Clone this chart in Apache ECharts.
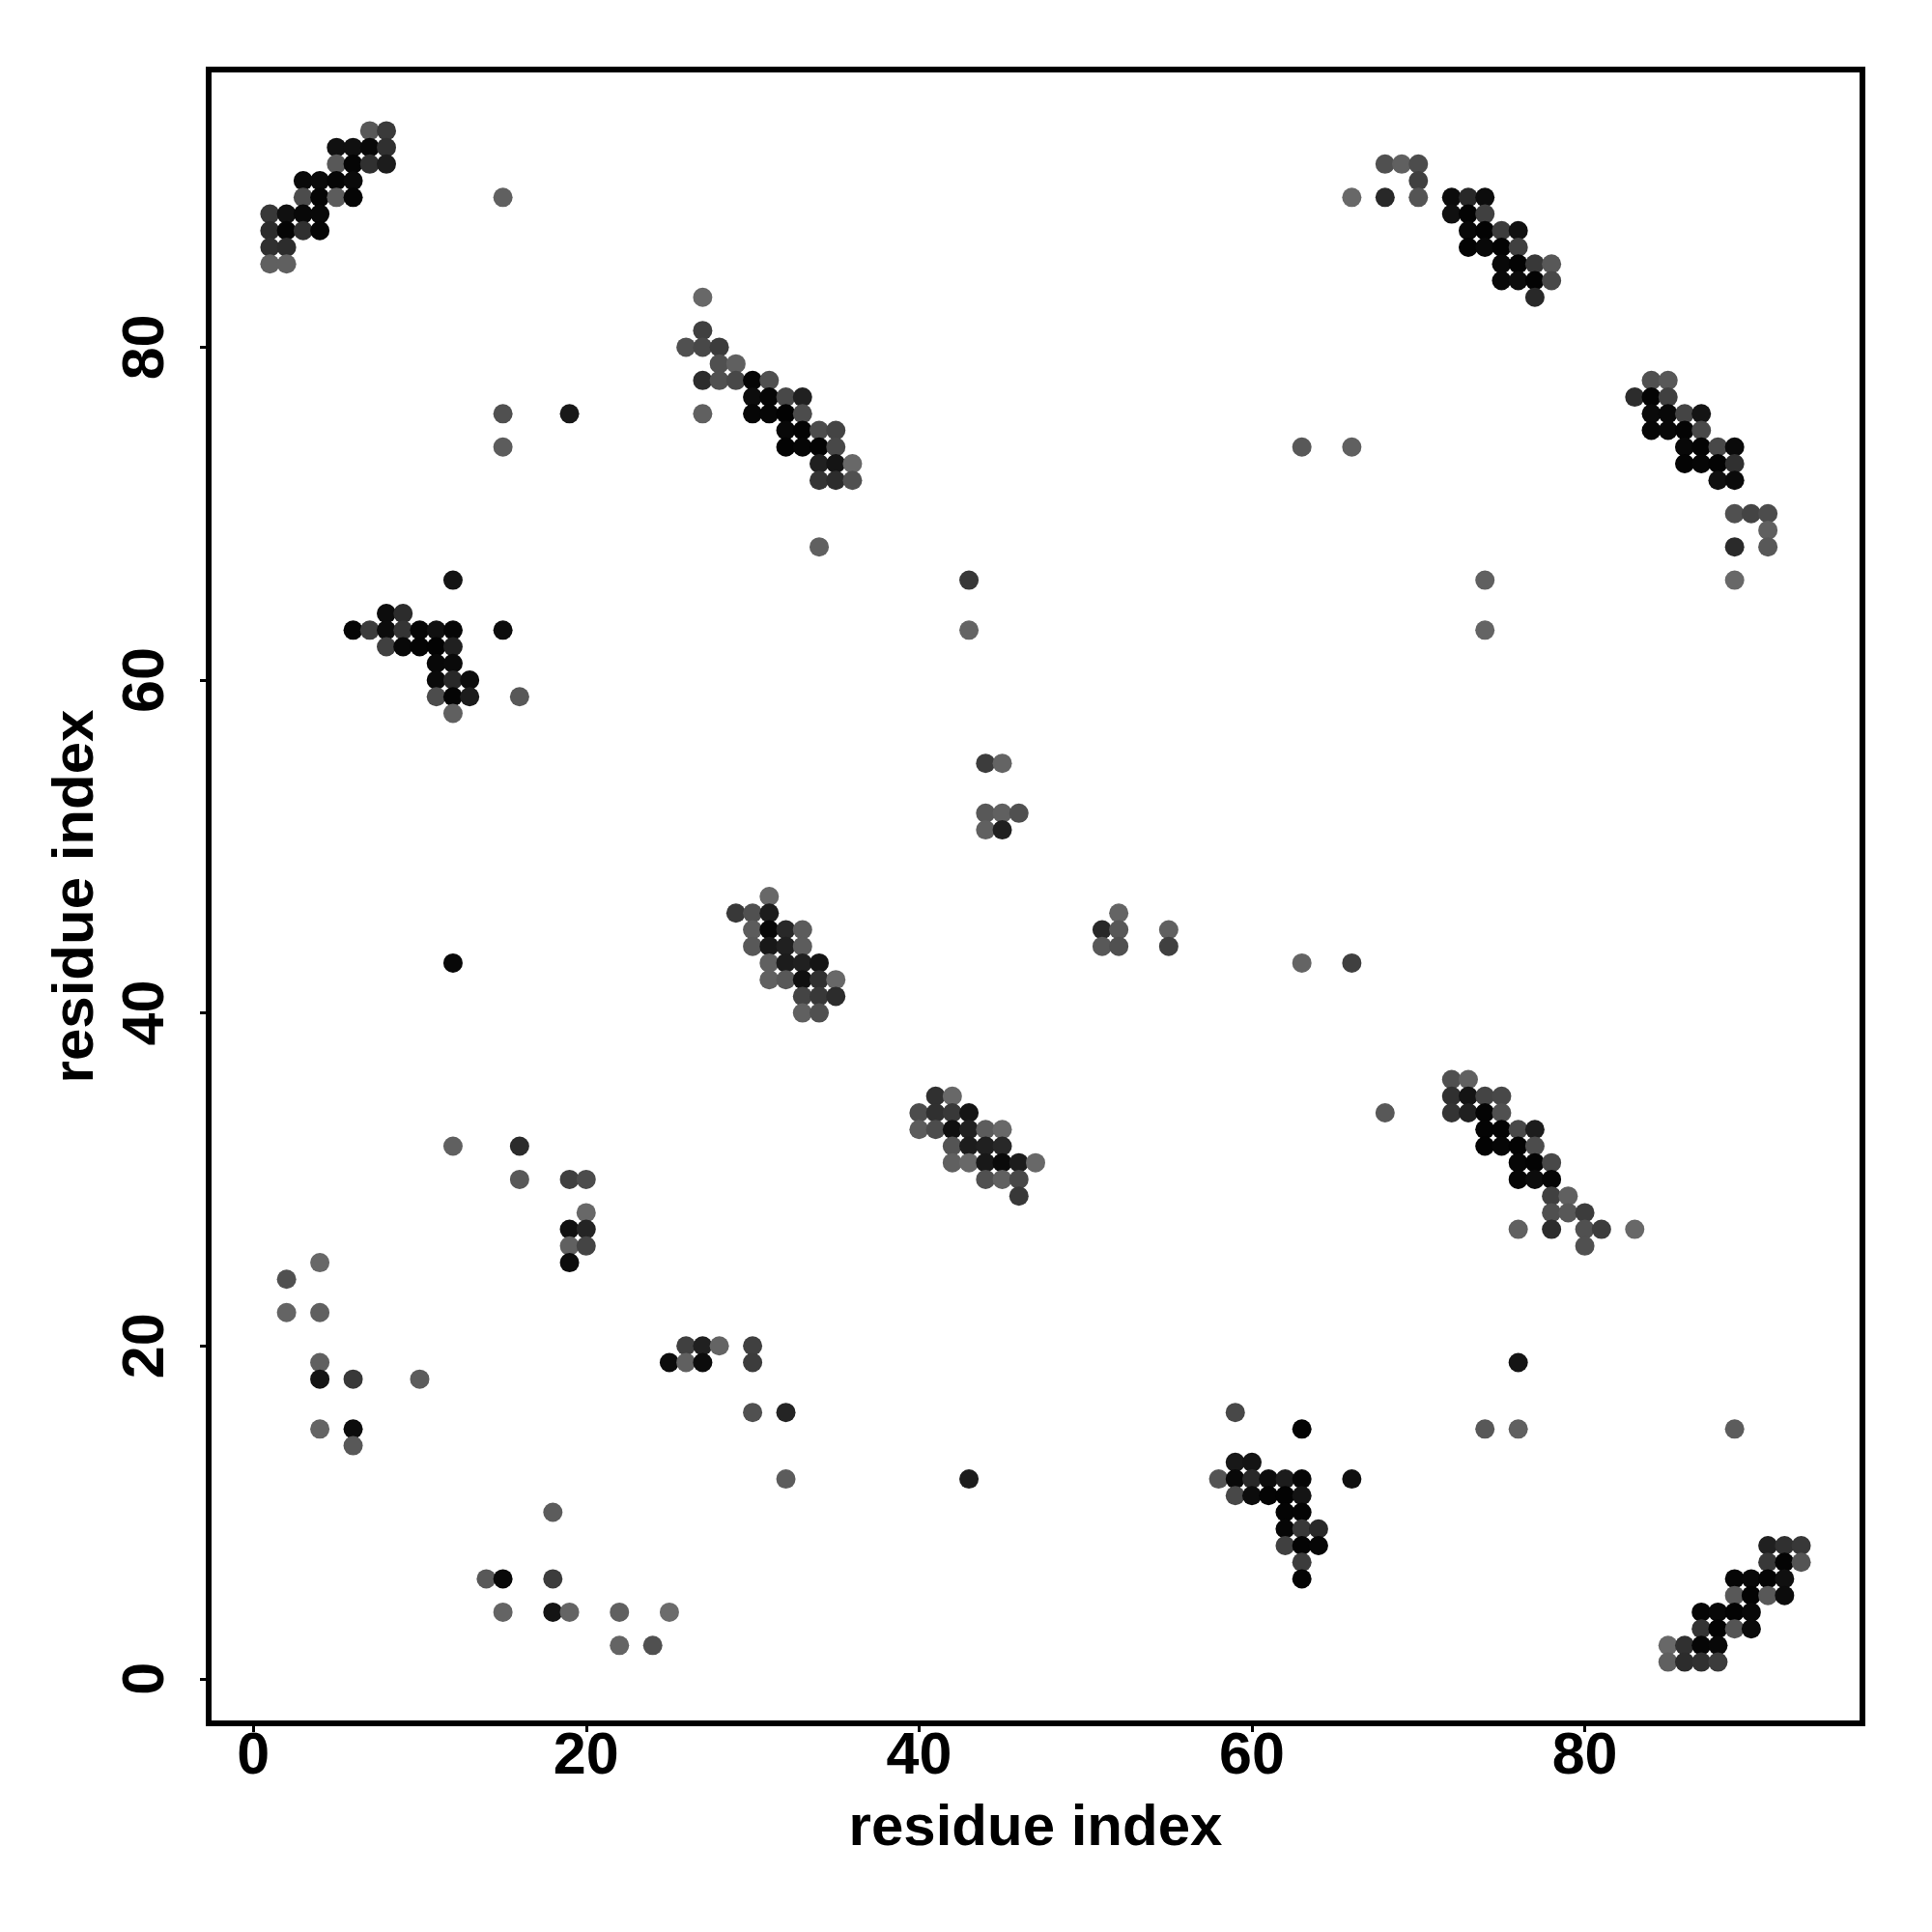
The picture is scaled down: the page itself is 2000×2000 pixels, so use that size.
<!DOCTYPE html>
<html><head><meta charset="utf-8">
<style>html,body{margin:0;padding:0;background:#fff}#c{width:2000px;height:2000px}</style>
<script src="https://cdn.jsdelivr.net/npm/echarts@6/dist/echarts.min.js"></script>
</head><body><div id="c"></div>
<script>
// Each contact: [x residue, y residue, grey level of the dot]
const tickValues = [0, 20, 40, 60, 80];
const axisTitle = 'residue index';
const axisMin = -2.68, axisMax = 96.68;

const helixTopLeft = [[7,93,0x58],[8,93,0x3a],[5,92,0x10],[6,92,0x10],[7,92,0x08],[8,92,0x30],[5,91,0x58],[6,91,0x05],[7,91,0x30],[8,91,0x1c],[3,90,0x0a],[4,90,0x0a],[5,90,0x05],[6,90,0x0a],[3,89,0x4c],[4,89,0x05],[5,89,0x5c],[6,89,0x05],[1,88,0x38],[2,88,0x10],[3,88,0x08],[4,88,0x08],[1,87,0x2c],[2,87,0x05],[3,87,0x30],[4,87,0x05],[1,86,0x30],[2,86,0x2c],[1,85,0x60],[2,85,0x60],[15,89,0x60]];
const strandTopRight = [[68,91,0x50],[69,91,0x60],[70,91,0x4c],[70,90,0x40],[66,89,0x68],[68,89,0x28],[70,89,0x54],[72,89,0x0c],[73,89,0x28],[74,89,0x0c],[72,88,0x10],[73,88,0x03],[74,88,0x40],[73,87,0x08],[74,87,0x03],[75,87,0x3c],[76,87,0x10],[73,86,0x03],[74,86,0x08],[75,86,0x03],[76,86,0x40],[75,85,0x08],[76,85,0x03],[77,85,0x38],[78,85,0x58],[75,84,0x08],[76,84,0x0c],[77,84,0x03],[78,84,0x48],[77,83,0x28]];
const strandUpperMid = [[27,83,0x68],[27,81,0x40],[26,80,0x50],[27,80,0x48],[28,80,0x3c],[28,79,0x50],[29,79,0x60],[27,78,0x2c],[28,78,0x50],[29,78,0x48],[30,78,0x05],[31,78,0x50],[30,77,0x0c],[31,77,0x06],[32,77,0x48],[33,77,0x20],[27,76,0x60],[30,76,0x06],[31,76,0x06],[32,76,0x02],[33,76,0x4c],[32,75,0x08],[33,75,0x04],[34,75,0x4c],[35,75,0x44],[32,74,0x03],[33,74,0x06],[34,74,0x04],[35,74,0x48],[34,73,0x20],[35,73,0x14],[36,73,0x68],[34,72,0x34],[35,72,0x2c],[36,72,0x50]];
const strandUpperRight = [[84,78,0x50],[85,78,0x58],[83,77,0x2c],[84,77,0x04],[85,77,0x40],[84,76,0x0a],[85,76,0x08],[86,76,0x44],[87,76,0x14],[84,75,0x06],[85,75,0x08],[86,75,0x04],[87,75,0x48],[86,74,0x08],[87,74,0x04],[88,74,0x48],[89,74,0x0a],[86,73,0x04],[87,73,0x06],[88,73,0x03],[89,73,0x30],[88,72,0x10],[89,72,0x0a],[89,70,0x50],[90,70,0x44],[91,70,0x4c],[91,69,0x60],[89,68,0x2a],[91,68,0x58],[89,66,0x68]];
const cornerUpperLeft = [[12,66,0x14],[8,64,0x0c],[9,64,0x2c],[6,63,0x06],[7,63,0x3c],[8,63,0x0c],[9,63,0x34],[10,63,0x06],[11,63,0x10],[12,63,0x06],[15,63,0x0c],[8,62,0x40],[9,62,0x08],[10,62,0x04],[11,62,0x03],[12,62,0x20],[11,61,0x08],[12,61,0x0a],[11,60,0x0a],[12,60,0x28],[13,60,0x0c],[11,59,0x4c],[12,59,0x04],[13,59,0x1c],[16,59,0x58],[12,58,0x60]];
const strandCentreHigh = [[31,47,0x68],[29,46,0x38],[30,46,0x50],[31,46,0x1c],[30,45,0x5c],[31,45,0x08],[32,45,0x28],[33,45,0x5c],[30,44,0x58],[31,44,0x18],[32,44,0x20],[33,44,0x5c],[31,43,0x60],[32,43,0x1c],[33,43,0x20],[34,43,0x14],[31,42,0x60],[32,42,0x58],[33,42,0x10],[34,42,0x30],[35,42,0x68],[33,41,0x44],[34,41,0x38],[35,41,0x2c],[33,40,0x60],[34,40,0x50]];
const strandCentreLow = [[41,35,0x30],[42,35,0x68],[40,34,0x4c],[41,34,0x30],[42,34,0x38],[43,34,0x14],[40,33,0x5c],[41,33,0x4c],[42,33,0x10],[43,33,0x20],[44,33,0x5c],[45,33,0x68],[42,32,0x54],[43,32,0x1c],[44,32,0x20],[45,32,0x28],[42,31,0x60],[43,31,0x68],[44,31,0x18],[45,31,0x0a],[46,31,0x1c],[47,31,0x68],[44,30,0x50],[45,30,0x60],[46,30,0x48],[46,29,0x38]];
const strandLowerRight = [[72,36,0x50],[73,36,0x60],[72,35,0x30],[73,35,0x14],[74,35,0x44],[75,35,0x48],[72,34,0x34],[73,34,0x20],[74,34,0x04],[75,34,0x50],[74,33,0x04],[75,33,0x04],[76,33,0x48],[77,33,0x1c],[74,32,0x03],[75,32,0x06],[76,32,0x03],[77,32,0x4c],[76,31,0x06],[77,31,0x03],[78,31,0x48],[76,30,0x06],[77,30,0x0c],[78,30,0x06],[78,29,0x40],[79,29,0x60],[78,28,0x50],[79,28,0x58],[80,28,0x3c],[76,27,0x60],[78,27,0x2c],[80,27,0x50],[81,27,0x3c],[83,27,0x68],[80,26,0x50]];
const cornerLowerMid = [[63,15,0x04],[59,13,0x18],[60,13,0x14],[58,12,0x54],[59,12,0x08],[60,12,0x28],[61,12,0x0c],[62,12,0x1c],[63,12,0x06],[66,12,0x10],[59,11,0x48],[60,11,0x0c],[61,11,0x04],[62,11,0x03],[63,11,0x14],[62,10,0x04],[63,10,0x04],[62,9,0x06],[63,9,0x38],[64,9,0x28],[62,8,0x40],[63,8,0x04],[64,8,0x06],[63,7,0x3c],[63,6,0x03]];
const helixBottomRight = [[91,8,0x20],[92,8,0x30],[93,8,0x38],[91,7,0x38],[92,7,0x04],[93,7,0x54],[89,6,0x06],[90,6,0x08],[91,6,0x04],[92,6,0x10],[89,5,0x58],[90,5,0x03],[91,5,0x58],[92,5,0x0c],[87,4,0x06],[88,4,0x08],[89,4,0x03],[90,4,0x08],[87,3,0x34],[88,3,0x03],[89,3,0x54],[90,3,0x0a],[85,2,0x68],[86,2,0x30],[87,2,0x06],[88,2,0x08],[85,1,0x60],[86,1,0x2c],[87,1,0x30],[88,1,0x3c]];
const scatteredLowerLeft = [[12,32,0x60],[16,32,0x2c],[16,30,0x58],[19,30,0x40],[20,30,0x4c],[20,28,0x68],[19,27,0x10],[20,27,0x24],[19,26,0x60],[20,26,0x44],[19,25,0x0c],[4,25,0x68],[2,24,0x50],[2,22,0x64],[4,22,0x60],[4,19,0x60],[4,18,0x14],[6,18,0x38],[10,18,0x5c],[4,15,0x64],[6,15,0x0c],[6,14,0x58],[25,19,0x0c],[26,20,0x40],[27,20,0x20],[28,20,0x64],[26,19,0x60],[27,19,0x0c],[30,20,0x40],[30,19,0x3c],[30,16,0x50],[32,16,0x24],[32,12,0x5c],[18,10,0x5c],[14,6,0x58],[15,6,0x08],[18,6,0x3c],[15,4,0x64],[18,4,0x14],[19,4,0x64],[22,4,0x60],[25,4,0x6c],[22,2,0x64],[24,2,0x50]];
const scatteredOther = [[15,76,0x50],[15,74,0x5c],[19,76,0x18],[34,68,0x60],[43,66,0x38],[43,63,0x64],[74,66,0x60],[74,63,0x64],[63,74,0x58],[66,74,0x60],[44,55,0x3c],[45,55,0x64],[44,52,0x58],[45,52,0x60],[46,52,0x50],[44,51,0x60],[45,51,0x20],[51,45,0x28],[52,46,0x64],[52,45,0x58],[51,44,0x58],[52,44,0x50],[55,45,0x60],[55,44,0x40],[12,43,0x08],[63,43,0x64],[66,43,0x40],[68,34,0x58],[43,12,0x1c],[59,16,0x48],[76,19,0x14],[74,15,0x58],[76,15,0x60],[89,15,0x5c]];

const contacts = [].concat(helixTopLeft, strandTopRight, strandUpperMid, strandUpperRight, cornerUpperLeft, strandCentreHigh, strandCentreLow, strandLowerRight, cornerLowerMid, helixBottomRight, scatteredLowerLeft, scatteredOther);

const FONT = '"Liberation Sans", Arial, sans-serif';
const axisBase = {
  type: 'value', min: axisMin, max: axisMax,
  splitLine: {show: false},
  axisLine: {show: false, onZero: false},
  axisTick: {show: true, length: 9, customValues: tickValues, lineStyle: {color: '#000', width: 3}},
  name: axisTitle, nameLocation: 'middle',
  nameTextStyle: {fontFamily: FONT, fontWeight: 'bold', fontSize: 60, color: '#000'}
};
const labelBase = {show: true, customValues: tickValues, fontFamily: FONT, fontWeight: 'bold', fontSize: 61, color: '#000', hideOverlap: false};

const chart = echarts.init(document.getElementById('c'), null, {renderer: 'canvas'});
chart.setOption({
  animation: false,
  backgroundColor: '#fff',
  grid: {left: 216, right: 72, top: 72, bottom: 216, show: true, borderColor: '#000', borderWidth: 6, backgroundColor: 'transparent', containLabel: false},
  xAxis: Object.assign({}, axisBase, {nameGap: 79, axisLabel: Object.assign({}, labelBase, {margin: 5})}),
  yAxis: Object.assign({}, axisBase, {nameGap: 107, axisLabel: Object.assign({}, labelBase, {margin: 33, rotate: 90})}),
  series: [{
    type: 'scatter',
    symbol: 'circle',
    symbolSize: 20,
    data: contacts.map(function (c) { return [c[0], c[1], c[2]]; }),
    itemStyle: {
      opacity: 1,
      color: function (p) { var g = p.value[2]; return 'rgb(' + g + ',' + g + ',' + g + ')'; }
    }
  }]
});
</script></body></html>
